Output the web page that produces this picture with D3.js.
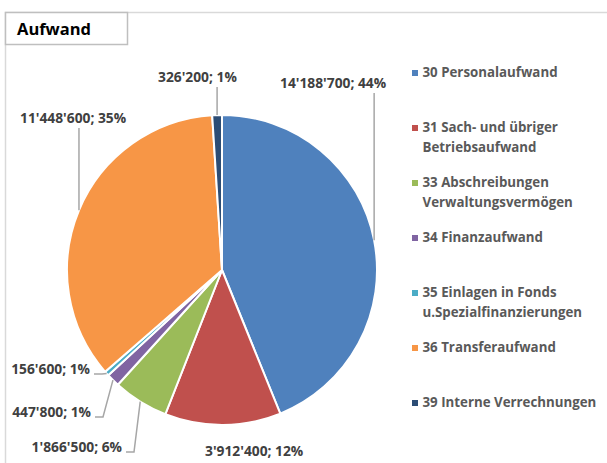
<!DOCTYPE html>
<html>
<head>
<meta charset="utf-8">
<script src="https://cdn.jsdelivr.net/npm/d3@7"></script>
<style>
  body { margin: 0; background: #fff; }
  svg { display: block; }
  text { font-family: "Open Sans", "Noto Sans", sans-serif; font-weight: bold; }
</style>
</head>
<body>
<script>
// data
const categories = [
  "30 Personalaufwand",
  "31 Sach- und übriger Betriebsaufwand",
  "33 Abschreibungen Verwaltungsvermögen",
  "34 Finanzaufwand",
  "35 Einlagen in Fonds u.Spezialfinanzierungen",
  "36 Transferaufwand",
  "39 Interne Verrechnungen"
];
const legendLines = [
  ["30 Personalaufwand"],
  ["31 Sach- und übriger", "Betriebsaufwand"],
  ["33 Abschreibungen", "Verwaltungsvermögen"],
  ["34 Finanzaufwand"],
  ["35 Einlagen in Fonds", "u.Spezialfinanzierungen"],
  ["36 Transferaufwand"],
  ["39 Interne Verrechnungen"]
];
const values = [14188700, 3912400, 1866500, 447800, 156600, 11448600, 326200];
const percentLabels = ["44%", "12%", "6%", "1%", "1%", "35%", "1%"];
const colors = ["#4F81BD", "#C0504D", "#9BBB59", "#8064A2", "#4BACC6", "#F79646", "#2C4D75"];

// where each data label sits (x, baseline y, text anchor) and how its leader runs
const labelLayout = [
  { x: 280, y: 88, anchor: "start", leader: "down" },
  { x: 205, y: 456, anchor: "start", leader: "none" },
  { x: 122, y: 452, anchor: "end", leader: "side" },
  { x: 91, y: 417, anchor: "end", leader: "side" },
  { x: 90, y: 374, anchor: "end", leader: "side" },
  { x: 20, y: 123, anchor: "start", leader: "down" },
  { x: 158, y: 82, anchor: "start", leader: "down" }
];

const width = 607, height = 463;
const cx = 222, cy = 270, radius = 155;

const fmt = v => d3.format(",")(v).replace(/,/g, "'");

const svg = d3.select("body").append("svg")
  .attr("width", width)
  .attr("height", height);

// chart frame (only top and left visible)
svg.append("rect")
  .attr("x", 5.5).attr("y", 12.5)
  .attr("width", 640).attr("height", 500)
  .attr("fill", "none")
  .attr("stroke", "#D9D9D9")
  .attr("stroke-width", 1.5);

// title box
svg.append("rect")
  .attr("x", 5.5).attr("y", 12.5)
  .attr("width", 122).attr("height", 32)
  .attr("fill", "#fff")
  .attr("stroke", "#BFBFBF")
  .attr("stroke-width", 1.5);
svg.append("text")
  .attr("x", 17).attr("y", 35)
  .attr("font-size", 16.5)
  .attr("fill", "#000")
  .text("Aufwand");

const pie = d3.pie().sort(null).value(d => d)(values);
const arc = d3.arc().innerRadius(0).outerRadius(radius);
const edge = d3.arc().innerRadius(radius).outerRadius(radius);

const g = svg.append("g").attr("transform", `translate(${cx},${cy})`);

g.selectAll("path.slice")
  .data(pie)
  .enter().append("path")
  .attr("class", "slice")
  .attr("d", arc)
  .attr("fill", (d, i) => colors[i])
  .attr("stroke", "#fff")
  .attr("stroke-width", 2);

// data labels
const labels = svg.append("g");
pie.forEach((d, i) => {
  const L = labelLayout[i];
  const t = labels.append("text")
    .attr("x", L.x).attr("y", L.y)
    .attr("text-anchor", L.anchor)
    .attr("font-size", 13.8)
    .attr("fill", "#404040")
    .text(fmt(values[i]) + "; " + percentLabels[i]);
  const [ax, ay] = edge.centroid(d);
  const px = cx + ax, py = cy + ay;
  let pts = null;
  if (L.leader === "down") {
    pts = [[px, L.y + 5], [px, py]];
  } else if (L.leader === "side") {
    pts = [[L.x + 4, L.y], [L.x + 12, L.y], [px, py]];
  }
  if (pts) {
    labels.append("path")
      .attr("d", d3.line()(pts))
      .attr("fill", "none")
      .attr("stroke", "#A6A6A6")
      .attr("stroke-width", 1.5);
  }
});

// legend
const legend = svg.append("g").attr("transform", "translate(412,77)");
legendLines.forEach((lines, i) => {
  const row = legend.append("g").attr("transform", `translate(0,${i * 55})`);
  row.append("rect")
    .attr("x", 0).attr("y", -7)
    .attr("width", 6).attr("height", 6)
    .attr("fill", colors[i]);
  lines.forEach((s, j) => {
    row.append("text")
      .attr("x", 10.5).attr("y", j * 20)
      .attr("font-size", 13.3)
      .attr("fill", "#595959")
      .text(s);
  });
});
</script>
</body>
</html>
